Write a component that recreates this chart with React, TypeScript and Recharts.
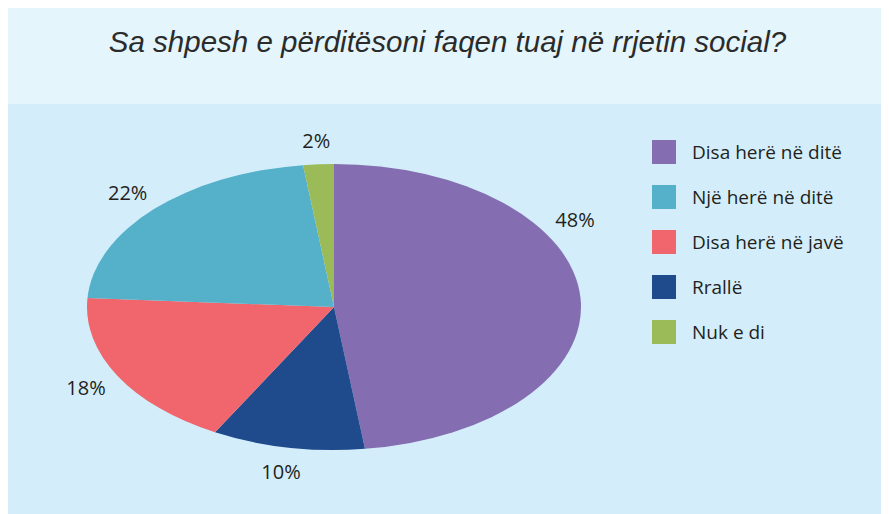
import { PieChart, Pie, Cell } from "recharts";

// pie order, clockwise from 12 o'clock
const categories = ["Disa herë në ditë", "Rrallë", "Disa herë në javë", "Një herë në ditë", "Nuk e di"];
const shares = [48, 10, 18, 22, 2];
// legend order as printed on the right
const legendOrder = ["Disa herë në ditë", "Një herë në ditë", "Disa herë në javë", "Rrallë", "Nuk e di"];

const colors: Record<string, string> = {
  "Disa herë në ditë": "#846eb1",
  "Një herë në ditë": "#55b0c9",
  "Disa herë në javë": "#f1666c",
  "Rrallë": "#1f4a8c",
  "Nuk e di": "#9bbb58",
};

const chartData = categories.map((name, i) => ({ name, value: shares[i] }));

// the pie is drawn squashed, wider than tall
const STRETCH = 247 / 143;
const RAD = Math.PI / 180;
const FONT = "'Open Sans', 'Noto Sans', sans-serif";

// excel pushed the big slice's label up the side
const labelNudge: Record<string, number> = { "Disa herë në ditë": 28 };

function EllipseSector(props: any) {
  const { cx, cy, outerRadius, startAngle, endAngle, fill } = props;
  const rx = outerRadius * STRETCH;
  const ry = outerRadius;
  const x0 = cx + rx * Math.cos(startAngle * RAD);
  const y0 = cy - ry * Math.sin(startAngle * RAD);
  const x1 = cx + rx * Math.cos(endAngle * RAD);
  const y1 = cy - ry * Math.sin(endAngle * RAD);
  const large = Math.abs(endAngle - startAngle) > 180 ? 1 : 0;
  const sweep = endAngle < startAngle ? 1 : 0;
  const d = `M${cx},${cy} L${x0},${y0} A${rx},${ry} 0 ${large} ${sweep} ${x1},${y1} Z`;
  return <path d={d} fill={fill} stroke="none" />;
}

function renderLabel(props: any) {
  const { cx, cy, midAngle, outerRadius, value, name } = props;
  const a = (midAngle + (labelNudge[name] || 0)) * RAD;
  const x = cx + (outerRadius * STRETCH + 36) * Math.cos(a);
  const y = cy - (outerRadius + 24) * Math.sin(a);
  return (
    <text x={x} y={y} textAnchor="middle" dominantBaseline="central" fill="#231f20" fontSize={20} fontFamily={FONT}>
      {value}%
    </text>
  );
}

export default function App() {
  return (
    <div style={{ position: "relative", width: 883, height: 506, marginLeft: -2 }}>
      <div style={{ position: "absolute", left: 0, top: 0, width: 883, height: 96, background: "#e4f5fc" }} />
      <div style={{ position: "absolute", left: 0, top: 96, width: 883, height: 410, background: "#d3eefa" }} />
      <div
        style={{
          position: "absolute",
          left: 0,
          top: 16,
          width: 883,
          textAlign: "center",
          fontFamily: "'Liberation Sans', Arial, sans-serif",
          fontStyle: "italic",
          fontSize: 29.5,
          lineHeight: "36px",
          color: "#2b2b2b",
        }}
      >
        Sa shpesh e përditësoni faqen tuaj në rrjetin social?
      </div>

      <div style={{ position: "absolute", left: 0, top: 0 }}>
        <PieChart width={883} height={506} margin={{ top: 0, right: 0, bottom: 0, left: 0 }}>
          <Pie
            data={chartData}
            dataKey="value"
            nameKey="name"
            cx={328}
            cy={299}
            outerRadius={143}
            startAngle={90}
            endAngle={-270}
            stroke="none"
            shape={EllipseSector}
            label={renderLabel}
            labelLine={false}
            isAnimationActive={false}
          >
            {chartData.map((d) => (
              <Cell key={d.name} fill={colors[d.name]} />
            ))}
          </Pie>
        </PieChart>
      </div>

      {/* legend */}
      <div style={{ position: "absolute", left: 646, top: 132 }}>
        {legendOrder.map((name) => (
          <div key={name} style={{ display: "flex", alignItems: "center", height: 24, marginBottom: 21 }}>
            <div style={{ width: 24, height: 24, background: colors[name] }} />
            <span style={{ marginLeft: 16, fontFamily: FONT, fontSize: 19, color: "#231f20", whiteSpace: "nowrap" }}>
              {name}
            </span>
          </div>
        ))}
      </div>
    </div>
  );
}
